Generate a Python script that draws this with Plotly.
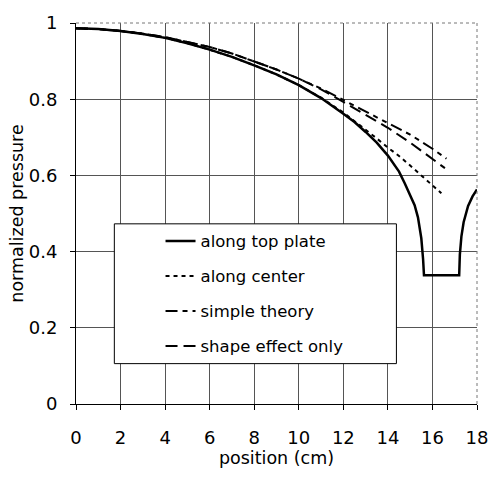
import plotly.graph_objects as go

# Data
top_x = [0, 1, 2, 3, 4, 5, 6, 7, 8, 9, 10, 11, 12, 12.5, 13, 13.5, 14, 14.5, 14.75, 15.0, 15.2, 15.35, 15.5, 15.58, 15.62, 17.2, 17.23, 17.3, 17.4, 17.6, 17.8, 18.0]
top_y = [0.986, 0.984, 0.979, 0.971, 0.961, 0.947, 0.930, 0.911, 0.889, 0.865, 0.837, 0.803, 0.762, 0.740, 0.714, 0.686, 0.652, 0.610, 0.580, 0.548, 0.522, 0.490, 0.435, 0.380, 0.338, 0.338, 0.392, 0.440, 0.477, 0.520, 0.545, 0.563]

center_x = [0, 1, 2, 3, 4, 5, 6, 7, 8, 9, 10, 11, 12, 12.5, 13, 13.5, 14, 14.5, 15, 15.5, 16, 16.4]
center_y = [0.986, 0.984, 0.979, 0.971, 0.961, 0.947, 0.930, 0.911, 0.889, 0.865, 0.837, 0.804, 0.765, 0.743, 0.721, 0.697, 0.673, 0.651, 0.626, 0.599, 0.574, 0.553]

simple_x = [0, 1, 2, 3, 4, 5, 6, 7, 8, 9, 10, 11, 12, 13, 14, 15, 16, 16.63]
simple_y = [0.986, 0.984, 0.979, 0.972, 0.963, 0.951, 0.937, 0.920, 0.900, 0.878, 0.854, 0.828, 0.798, 0.768, 0.738, 0.707, 0.670, 0.644]

shape_x = [0, 1, 2, 3, 4, 5, 6, 7, 8, 9, 10, 11, 12, 13, 14, 15, 16, 16.56]
shape_y = [0.986, 0.984, 0.979, 0.972, 0.963, 0.951, 0.937, 0.920, 0.900, 0.878, 0.854, 0.826, 0.793, 0.758, 0.725, 0.686, 0.643, 0.619]

names = ["along top plate", "along center", "simple theory", "shape effect only"]

x_ticks = [0, 2, 4, 6, 8, 10, 12, 14, 16, 18]
y_ticks = [0, 0.2, 0.4, 0.6, 0.8, 1]
y_tick_text = ["0", "0.2", "0.4", "0.6", "0.8", "1"]

fig = go.Figure()
fig.add_trace(go.Scatter(x=top_x, y=top_y, mode="lines", name=names[0], legendgroup="a",
                         line=dict(color="black", width=2.5)))
fig.add_trace(go.Scatter(x=center_x, y=center_y, mode="lines", name=names[1], legendgroup="b",
                         line=dict(color="black", width=2, dash="4px,4px")))
fig.add_trace(go.Scatter(x=simple_x, y=simple_y, mode="lines", name=names[2], legendgroup="c",
                         line=dict(color="black", width=2, dash="12px,5px,5px,5px,5px,5px")))
fig.add_trace(go.Scatter(x=shape_x, y=shape_y, mode="lines", name=names[3], legendgroup="d",
                         line=dict(color="black", width=2, dash="12px,6px")))

# legend frame
fig.add_shape(type="rect", xref="paper", yref="paper",
              x0=(115 - 76) / 408, x1=(402 - 76) / 408,
              y0=(404 - 363) / 387, y1=(404 - 221) / 387,
              line=dict(color="black", width=1), fillcolor="white", layer="above")
# dotted top and right frame
fig.add_shape(type="line", xref="paper", yref="paper", x0=0, x1=1, y0=1, y1=1,
              line=dict(color="#777", width=1, dash="dot"))
fig.add_shape(type="line", xref="paper", yref="paper", x0=1, x1=1, y0=0, y1=1,
              line=dict(color="#777", width=1, dash="dot"))

tick_font = dict(family="DejaVu Sans", size=18, color="black")
title_font = dict(family="DejaVu Sans", size=17.5, color="black")
fig.update_layout(
    width=500, height=480,
    margin=dict(l=76, r=16, t=17, b=76),
    paper_bgcolor="white", plot_bgcolor="white",
    font=tick_font,
    showlegend=True,
    legend=dict(x=(162 - 76) / 408, y=(404 - 221) / 387, xanchor="left", yanchor="top",
                bgcolor="rgba(0,0,0,0)", borderwidth=0, tracegroupgap=10.5,
                font=dict(family="DejaVu Sans", size=16.5, color="black")),
    xaxis=dict(range=[0, 18], tickmode="array", tickvals=x_ticks, ticktext=[str(t) for t in x_ticks],
               showgrid=True, gridcolor="#555", gridwidth=1, zeroline=False,
               showline=True, linecolor="black", linewidth=1,
               ticks="outside", ticklen=5, tickcolor="black", ticklabelstandoff=12,
               title=dict(text="position (cm)", standoff=5, font=title_font), tickfont=tick_font),
    yaxis=dict(range=[0, 1], tickmode="array", tickvals=y_ticks, ticktext=y_tick_text,
               showgrid=True, gridcolor="#555", gridwidth=1, zeroline=False,
               showline=True, linecolor="black", linewidth=1,
               ticks="outside", ticklen=5, tickcolor="black", ticklabelstandoff=9,
               title=dict(text="normalized pressure", standoff=0, font=title_font), tickfont=tick_font),
)

fig.write_html("out.html")
